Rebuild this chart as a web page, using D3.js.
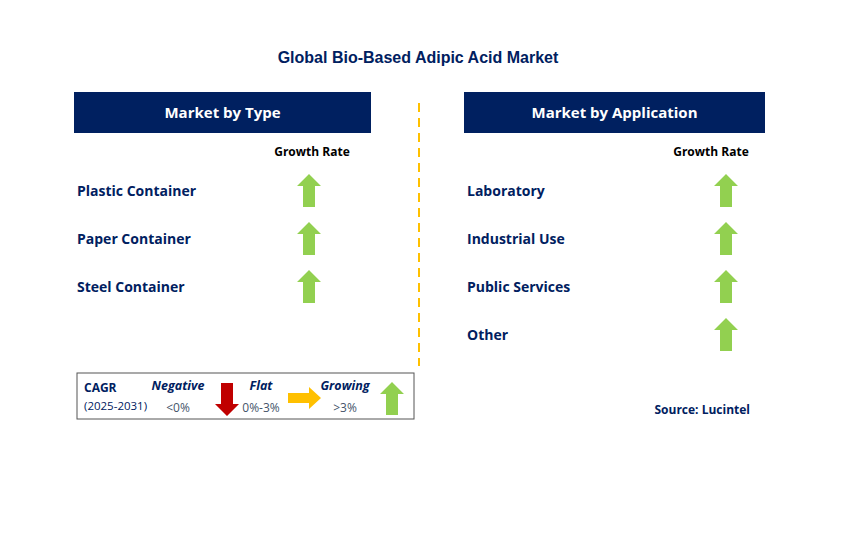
<!DOCTYPE html>
<meta charset="utf-8">
<body style="margin:0;background:#fff"><div id="chart"></div></body>
<script src="https://cdn.jsdelivr.net/npm/d3@7"></script>
<script>
var title = "Global Bio-Based Adipic Acid Market";
var typeItems = ["Plastic Container", "Paper Container", "Steel Container"];
var typeTrend = ["up", "up", "up"];
var appItems = ["Laboratory", "Industrial Use", "Public Services", "Other"];
var appTrend = ["up", "up", "up", "up"];
var legendItems = [
  {label: "Negative", range: "<0%", trend: "down"},
  {label: "Flat", range: "0%-3%", trend: "flat"},
  {label: "Growing", range: ">3%", trend: "up"}
];

var width = 850, height = 556;
var navy = "#002060", green = "#92D050";
var font = "'Open Sans', 'DejaVu Sans', sans-serif";

var svg = d3.select("#chart").append("svg")
  .attr("width", width).attr("height", height)
  .style("font-family", font);

svg.append("text").attr("x", 418).attr("y", 63).attr("text-anchor", "middle")
  .attr("font-size", 16).attr("font-weight", "bold").attr("fill", navy)
  .style("font-family", "Arial, 'Liberation Sans', sans-serif").text(title);

// dashed divider
svg.append("line").attr("x1", 419).attr("x2", 419).attr("y1", 103).attr("y2", 366)
  .attr("stroke", "#FFC000").attr("stroke-width", 2).attr("stroke-dasharray", "9,6");

// arrow shapes, centred at 0,0
function arrow(g, trend) {
  if (trend == "up") {
    g.append("path").attr("d", "M0,-17 L12,-5 L6,-5 L6,16 L-6,16 L-6,-5 L-12,-5 Z").attr("fill", green);
  } else if (trend == "down") {
    g.append("path").attr("d", "M0,17 L12,5 L6,5 L6,-16 L-6,-16 L-6,5 L-12,5 Z").attr("fill", "#C00000");
  } else {
    g.append("path").attr("d", "M17,0 L5,-11 L5,-5 L-16,-5 L-16,5 L5,5 L5,11 Z").attr("fill", "#FFC000");
  }
}

function panel(x0, w, heading, items, trends, arrowX, grX) {
  svg.append("rect").attr("x", x0).attr("y", 92).attr("width", w).attr("height", 41).attr("fill", navy);
  svg.append("text").attr("x", x0 + w / 2).attr("y", 118).attr("text-anchor", "middle")
    .attr("font-size", 15).attr("font-weight", "bold").attr("fill", "#fff").text(heading);
  svg.append("text").attr("x", grX).attr("y", 156).attr("text-anchor", "middle")
    .attr("font-size", 12).attr("font-weight", "bold").attr("fill", "#000").text("Growth Rate");
  var y = d3.scaleBand().domain(d3.range(items.length)).range([167, 167 + 48 * items.length]);
  items.forEach(function(d, i) {
    var cy = y(i) + y.bandwidth() / 2;
    svg.append("text").attr("x", x0 + 3).attr("y", cy + 5).attr("font-size", 14)
      .attr("font-weight", "bold").attr("fill", navy).text(d);
    arrow(svg.append("g").attr("transform", "translate(" + arrowX + "," + cy + ")"), trends[i]);
  });
}
panel(74, 297, "Market by Type", typeItems, typeTrend, 309, 312);
panel(464, 301, "Market by Application", appItems, appTrend, 726, 711);

// legend
var lg = svg.append("g");
lg.append("rect").attr("x", 77).attr("y", 373).attr("width", 337).attr("height", 46)
  .attr("fill", "#fff").attr("stroke", "#555").attr("stroke-width", 1);
lg.append("text").attr("x", 84).attr("y", 392).attr("font-size", 12).attr("font-weight", "bold")
  .attr("fill", navy).text("CAGR");
lg.append("text").attr("x", 84).attr("y", 410).attr("font-size", 11.5).attr("fill", navy).text("(2025-2031)");
var lx = [178, 261, 345], ax = [227, 304, 392];
legendItems.forEach(function(d, i) {
  lg.append("text").attr("x", lx[i]).attr("y", 390).attr("text-anchor", "middle").attr("font-size", 12.5)
    .attr("font-weight", "bold").attr("font-style", "italic").attr("fill", navy).text(d.label);
  lg.append("text").attr("x", lx[i]).attr("y", 412).attr("text-anchor", "middle").attr("font-size", 12)
    .attr("fill", "#44546A").text(d.range);
  arrow(lg.append("g").attr("transform", "translate(" + ax[i] + "," + (d.trend == "flat" ? 398 : 399) + ")"), d.trend);
});

svg.append("text").attr("x", 750).attr("y", 414).attr("text-anchor", "end").attr("font-size", 12)
  .attr("font-weight", "bold").attr("fill", navy).text("Source: Lucintel");
</script>
